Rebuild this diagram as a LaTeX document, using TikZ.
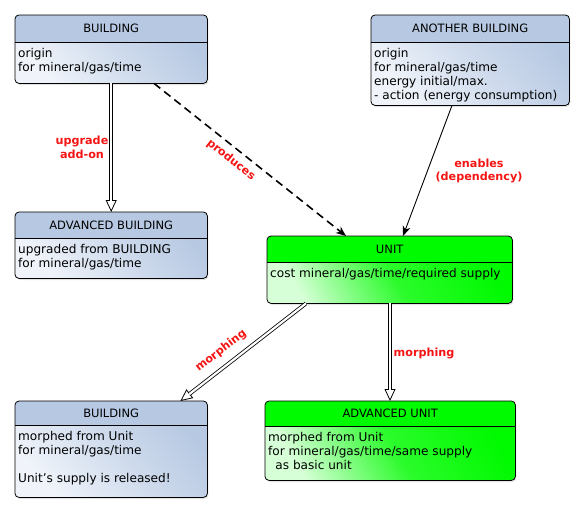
\documentclass[tikz,border=0pt]{standalone}
\usepackage{fontspec}
\setmainfont{DejaVu Sans}
\usetikzlibrary{arrows.meta,calc,shadows}
\definecolor{bluehd}{RGB}{182,200,226}
\definecolor{bluelt}{RGB}{240,244,250}
\definecolor{greenhd}{RGB}{0,250,0}
\definecolor{greenlt}{RGB}{215,255,215}
\definecolor{lblred}{RGB}{245,20,20}
\tikzset{
  boxbase/.style={rectangle, rounded corners=4pt, inner sep=0pt, anchor=north west,
    drop shadow={shadow xshift=1.2pt, shadow yshift=-1.8pt, opacity=0.22}},
  bluebox/.style={boxbase, top color=bluehd, bottom color=bluelt, middle color=bluehd!55!bluelt, shading angle=-50},
  greenbox/.style={boxbase, top color=greenhd, bottom color=greenlt, middle color=greenhd!80!greenlt, shading angle=-60},
  titletext/.style={font=\fontsize{11.5}{13}\selectfont, inner sep=0pt},
  bodytext/.style={font=\fontsize{12.1}{14}\selectfont, inner sep=0pt, anchor=north west, align=left},
  lbl/.style={font=\fontsize{11.2}{13.5}\selectfont\bfseries, text=lblred, inner sep=0pt, align=center},
  dbl/.style={draw, double, double distance=2.2pt, line width=0.8pt, shorten >=11pt},
  opentip/.style={line width=0.8pt, -{Triangle[open, length=12pt, width=11pt]}},
  solidtip/.style={-{Stealth[length=10pt, width=8pt, inset=3pt]}},
}
\newcommand{\umlbox}[9]{%
  \node[#7box, minimum width=#4pt, minimum height=#5pt] (#1) at (#2,#3) {};
  \fill[#7hd, rounded corners=4pt] (#1.north west) rectangle ($(#1.north east)+(0,#6)$);
  \fill[#7hd] ($(#1.north west)+(0,#6-6)$) rectangle ($(#1.north east)+(0,#6)$);
  \draw[line width=0.7pt] ($(#1.north west)+(0,#6)$) -- ($(#1.north east)+(0,#6)$);
  \draw[line width=0.8pt, rounded corners=4pt] (#1.north west) rectangle (#1.south east);
  \node[titletext] (#1-t) at ($(#1.north)+(0,#6/2)$) {#8};
  \node[bodytext] (#1-b) at ($(#1.north west)+(3,#6+6.5)$) {#9};
}
\begin{document}
\begin{tikzpicture}[x=1pt,y=-1pt]
\useasboundingbox (0,0) rectangle (585,514);
\umlbox{b1}{15}{15}{192}{68}{27}{blue}{BUILDING}{origin\\for mineral/gas/time}
\umlbox{b2}{371}{15}{198}{90}{27}{blue}{ANOTHER BUILDING}{origin\\for mineral/gas/time\\energy initial/max.\\- action (energy consumption)}
\umlbox{b3}{15}{212}{192}{66}{26}{blue}{ADVANCED BUILDING}{upgraded from BUILDING\\for mineral/gas/time}
\umlbox{u1}{267}{236}{245}{67}{26}{green}{UNIT}{cost mineral/gas/time/required supply}
\umlbox{b4}{15}{401}{192}{96}{24}{blue}{BUILDING}{morphed from Unit\\for mineral/gas/time\\[13.9pt]Unit's supply is released!}
\umlbox{u2}{265}{401}{250}{79}{25}{green}{ADVANCED UNIT}{morphed from Unit\\for mineral/gas/time/same supply\\\hspace{0.6em}as basic unit}

% connector end points
\coordinate (c1s) at (b1.south);
\coordinate (c1e) at (b3.north);
\coordinate (c2s) at ($(b1.south west)+(139,0)$);
\coordinate (c2e) at ($(u1.north west)+(79,0)$);
\coordinate (c3s) at ($(b2.south west)+(81,0)$);
\coordinate (c3e) at ($(u1.north west)+(136,0)$);
\coordinate (c4s) at ($(u1.south west)+(39,0)$);
\coordinate (c4e) at ($(b4.north east)+(-27,0)$);
\coordinate (c5s) at ($(u1.south west)+(123,0)$);
\coordinate (c5e) at ($(u2.north west)+(125,0)$);

% upgrade
\draw[opentip] ($(c1e)!12pt!(c1s)$) -- (c1e);
\draw[dbl] (c1s) -- (c1e);
\node[lbl] (l1) at (82,147.5) {upgrade\\add-on};

% produces
\draw[solidtip, line width=1.6pt, dash pattern=on 8pt off 5pt] (c2s) -- (c2e);
\node[lbl, rotate=-38.4] (l2) at (231,160) {produces};

% enables
\draw[solidtip, line width=0.9pt] (c3s) -- (c3e);
\node[lbl] (l3) at (479,171) {enables\\(dependency)};

% morphing to building
\draw[opentip] ($(c4e)!12pt!(c4s)$) -- (c4e);
\draw[dbl] (c4s) -- (c4e);
\node[lbl, rotate=37.6] (l4) at (221,351) {morphing};

% morphing to advanced unit
\draw[opentip] ($(c5e)!12pt!(c5s)$) -- (c5e);
\draw[dbl] (c5s) -- (c5e);
\node[lbl] (l5) at (424,353) {morphing};
\end{tikzpicture}
\end{document}
